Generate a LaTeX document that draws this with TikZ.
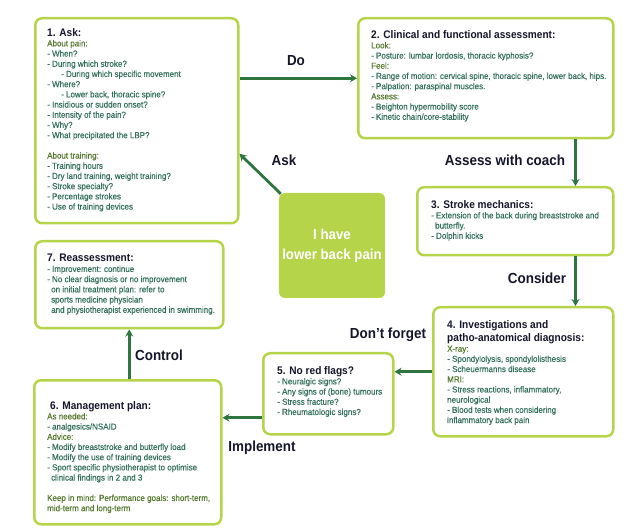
\documentclass[tikz,border=0pt]{standalone}
\usepackage{fontspec}
\setmainfont{Liberation Sans}[FakeStretch=0.92]
\newfontfamily\bodyfont{Liberation Sans}[FakeStretch=0.92, FakeBold=0.4]
\usepackage{xcolor}
\usepackage{tikz}
\usetikzlibrary{positioning,calc,arrows.meta}

\definecolor{lime}{HTML}{B5D44A}
\definecolor{flowgreen}{HTML}{2E7540}
\definecolor{bodytxt}{HTML}{33705C}
\definecolor{subtxt}{HTML}{55782E}
\definecolor{headtxt}{HTML}{15152A}

\newcommand{\hd}[1]{{\fontsize{11}{13}\selectfont\normalfont\bfseries\color{headtxt}#1}}
\newcommand{\sub}[1]{{\color{subtxt}#1}}
\newcommand{\ind}{\hspace*{4pt}}

\tikzset{
    card/.style={draw=lime, line width=2.5pt, rounded corners=7pt, fill=white, inner sep=0pt, anchor=north west},
    cardtext/.style={anchor=north west, inner sep=0pt, align=left, text=bodytxt, font=\bodyfont\fontsize{8.7}{10.2}\selectfont},
    flow/.style={draw=flowgreen, line width=2.8pt, -{Stealth[length=7pt,width=8pt]}},
    steplbl/.style={font=\fontsize{14.6}{16}\selectfont\bfseries, text=headtxt, inner sep=0pt}
}

\begin{document}
\begin{tikzpicture}[x=1pt,y=-1pt]
    \useasboundingbox (0,0) rectangle (641,532);

    % Boxes
    \node[card, minimum width=203pt, minimum height=205pt] (ask) at (34,17) {};
    \node[card, minimum width=255pt, minimum height=120pt] (clin) at (357,17) {};
    \node[card, minimum width=196pt, minimum height=68pt] (stroke) at (416,186) {};
    \node[card, minimum width=180pt, minimum height=129pt] (inv) at (432,306) {};
    \node[card, minimum width=130pt, minimum height=81pt] (flags) at (262,352) {};
    \node[card, minimum width=187pt, minimum height=144pt] (plan) at (33,379) {};
    \node[card, minimum width=188pt, minimum height=87pt] (reass) at (34,240) {};

    % Start
    \node[fill=lime, rounded corners=6pt, minimum width=106pt, minimum height=105pt,
          text=white, align=center, font=\fontsize{14.4}{20}\selectfont\bfseries] (lbp) at (332,245.5)
          {I have\\lower back pain};

    % Box contents
    \node[cardtext] (asktxt) at ([xshift=13pt,yshift=-11pt]ask.north west) {%
        \hd{1. Ask:}\\
        \sub{About pain:}\\
        - When?\\
        - During which stroke?\\
        \hspace*{14pt}- During which specific movement\\
        - Where?\\
        \hspace*{14pt}- Lower back, thoracic spine?\\
        - Insidious or sudden onset?\\
        - Intensity of the pain?\\
        - Why?\\
        - What precipitated the LBP?\\[10.2pt]
        \sub{About training:}\\
        - Training hours\\
        - Dry land training, weight training?\\
        - Stroke specialty?\\
        - Percentage strokes\\
        - Use of training devices};

    \node[cardtext] (clintxt) at ([xshift=14pt,yshift=-13pt]clin.north west) {%
        \hd{2. Clinical and functional assessment:}\\
        \sub{Look:}\\
        - Posture: lumbar lordosis, thoracic kyphosis?\\
        \sub{Feel:}\\
        - Range of motion: cervical spine, thoracic spine, lower back, hips.\\
        - Palpation: paraspinal muscles.\\
        \sub{Assess:}\\
        - Beighton hypermobility score\\
        - Kinetic chain/core-stability};

    \node[cardtext] (stroketxt) at ([xshift=15pt,yshift=-14pt]stroke.north west) {%
        \hd{3. Stroke mechanics:}\\
        - Extension of the back during breaststroke and\\
        \ind butterfly.\\
        - Dolphin kicks};

    \node[cardtext] (invtxt) at ([xshift=15pt,yshift=-14pt]inv.north west) {%
        \hd{4. Investigations and}\\[2pt]
        \hd{patho-anatomical diagnosis:}\\
        \sub{X-ray:}\\
        - Spondylolysis, spondylolisthesis\\
        - Scheuermanns disease\\
        \sub{MRI:}\\
        - Stress reactions, inflammatory,\\
        neurological\\
        - Blood tests when considering\\
        inflammatory back pain};

    \node[cardtext] (flagstxt) at ([xshift=15pt,yshift=-14pt]flags.north west) {%
        \hd{5. No red flags?}\\
        - Neuralgic signs?\\
        - Any signs of (bone) tumours\\
        - Stress fracture?\\
        - Rheumatologic signs?};

    \node[cardtext] (plantxt) at ([xshift=14pt,yshift=-22pt]plan.north west) {%
        \hspace*{3pt}\hd{6. Management plan:}\\
        \sub{As needed:}\\
        - analgesics/NSAID\\
        \sub{Advice:}\\
        - Modify breaststroke and butterfly load\\
        - Modify the use of training devices\\
        - Sport specific physiotherapist to optimise\\
        \ind clinical findings in 2 and 3\\[10.2pt]
        \sub{Keep in mind: Performance goals: short-term,}\\
        \sub{mid-term and long-term}};

    \node[cardtext] (reasstxt) at ([xshift=13pt,yshift=-14pt]reass.north west) {%
        \hd{7. Reassessment:}\\
        - Improvement: continue\\
        - No clear diagnosis or no improvement\\
        \ind on initial treatment plan: refer to\\
        \ind sports medicine physician\\
        \ind and physiotherapist experienced in swimming.};

    % Connectors
    \draw[flow] (ask.east |- clin.west) -- (clin.west);
    \draw[flow] ([xshift=2pt,yshift=-1pt]lbp.north west) -- ([yshift=-33pt]ask.east);
    \draw[flow] ([xshift=-39pt]clin.south east) -- ([xshift=-39pt]stroke.north east);
    \draw[flow] ([xshift=-39pt]stroke.south east) -- ([xshift=-39pt]stroke.south east |- inv.north);
    \draw[flow] (inv.west) -- (inv.west -| flags.east);
    \draw[flow] ([yshift=-24pt]flags.west) -- ([yshift=-24pt]flags.west -| plan.east);
    \draw[flow] (plan.north -| reass.south) -- (reass.south);

    % Step labels
    \foreach \pos/\name/\txt in {(296,61)/do/Do, (284,160)/asklbl/Ask, (505,160)/coach/Assess with coach,
        (537,278)/consider/Consider, (388,335)/forget/Don't forget, (262,448)/implement/Implement,
        (159,355)/control/Control}
        \node[steplbl] (\name) at \pos {\txt};
\end{tikzpicture}
\end{document}
